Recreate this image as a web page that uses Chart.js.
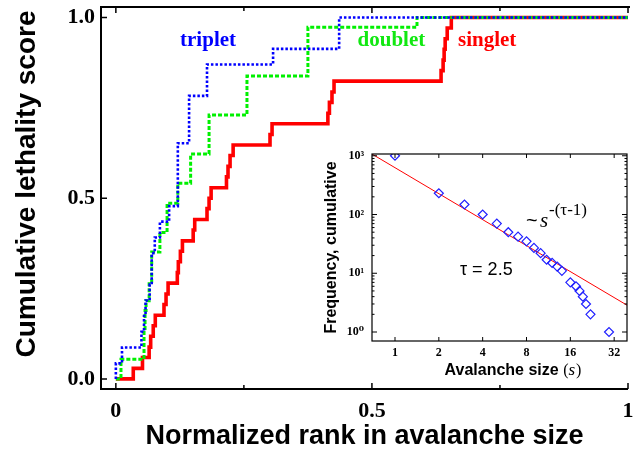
<!DOCTYPE html>
<html>
<head>
<meta charset="utf-8">
<title>Cumulative lethality score</title>
<script src="https://cdn.jsdelivr.net/npm/chart.js@4.4.1/dist/chart.umd.min.js"></script>
<style>
  html, body { margin: 0; padding: 0; background: #fff; }
  #main-box { position: absolute; left: 0; top: 0; width: 637px; height: 464px; }
  #inset-box { position: absolute; left: 300px; top: 140px; width: 337px; height: 250px; }
</style>
</head>
<body>
<div id="main-box"><canvas id="lethality-chart"></canvas></div>
<div id="inset-box"><canvas id="avalanche-chart"></canvas></div>
<script>
// main panel ticks
const xTicks = [0, 0.5, 1]
const xTickLabels = ['0', '0.5', '1']
const xMinorTicks = [0.25, 0.75]
const yTicks = [0, 0.5, 1]
const yTickLabels = ['0.0', '0.5', '1.0']

// step curves: normalized rank -> cumulative lethality score
const singletRank = [0, 0.034, 0.052, 0.065, 0.068, 0.073, 0.077, 0.094, 0.098, 0.102, 0.120, 0.122,
  0.126, 0.130, 0.151, 0.154, 0.178, 0.182, 0.186, 0.216, 0.219, 0.223, 0.229, 0.301, 0.305,
  0.414, 0.417, 0.422, 0.426, 0.635, 0.639, 0.641, 0.643, 0.647, 0.655, 1.0]
const singletScore = [0, 0.029, 0.059, 0.088, 0.118, 0.147, 0.176, 0.206, 0.235, 0.265, 0.294, 0.324,
  0.353, 0.382, 0.412, 0.441, 0.471, 0.5, 0.529, 0.559, 0.588, 0.618, 0.647, 0.676, 0.706,
  0.735, 0.765, 0.794, 0.824, 0.853, 0.882, 0.912, 0.941, 0.971, 1.0, 1.0]

const doubletRank = [0, 0.010, 0.055, 0.057, 0.059, 0.065, 0.070, 0.086, 0.100, 0.121, 0.146, 0.182, 0.256, 0.375, 0.588, 1.0]
const doubletScore = [0, 0.054, 0.135, 0.189, 0.216, 0.270, 0.351, 0.405, 0.486, 0.541, 0.622, 0.730, 0.838, 0.973, 1.0, 1.0]

const tripletRank = [0, 0, 0.012, 0.050, 0.055, 0.058, 0.066, 0.070, 0.076, 0.086, 0.104, 0.121, 0.143, 0.178, 0.307, 0.436, 1.0]
const tripletScore = [0, 0.043, 0.087, 0.130, 0.174, 0.217, 0.261, 0.348, 0.391, 0.435, 0.478, 0.652, 0.783, 0.870, 0.913, 1.0, 1.0]

// inset: avalanche size distribution
const sizeTicks = [1, 2, 4, 8, 16, 32]
const freqTicks = [1, 10, 100, 1000]
const freqTickLabels = ['10⁰', '10¹', '10²', '10³']
const avalancheSize = [1, 2, 3, 4, 5, 6, 7, 8, 9, 10, 11, 12, 13, 14, 16, 17.5, 18.5, 19.5, 20.5, 22, 29.5]
const avalancheFreq = [1000, 230, 148, 100, 70, 50, 42, 35, 27, 22, 17, 15, 13, 11, 7, 6, 5, 4, 3, 2, 1]
const fitSize = [0.695, 39.2]
const fitFreq = [1070, 2.86]


const SERIF = "'Liberation Serif', 'DejaVu Serif', serif"
const SANS = "'Liberation Sans', Arial, sans-serif"

const toPoints = (xs, ys) => xs.map((x, i) => ({ x, y: ys[i] }))


const mainFrame = {
  id: 'mainFrame',
  afterDraw(chart) {
    const { ctx, chartArea: a, scales: { x, y } } = chart
    ctx.save()
    ctx.strokeStyle = '#000'
    ctx.lineWidth = 2
    ctx.beginPath()
    ctx.moveTo(a.right + 2, a.top)
    ctx.lineTo(a.left, a.top)
    ctx.lineTo(a.left, a.bottom)
    ctx.lineTo(a.right, a.bottom)
    ctx.stroke()

    ctx.lineWidth = 1.5
    ctx.beginPath()
    const tick = (v, len) => {
      const px = x.getPixelForValue(v)
      ctx.moveTo(px, a.bottom); ctx.lineTo(px, a.bottom - len)
      ctx.moveTo(px, a.top); ctx.lineTo(px, a.top + len)
    }
    xTicks.forEach(v => tick(v, 6))
    xMinorTicks.forEach(v => tick(v, 4))
    yTicks.forEach(v => {
      const py = y.getPixelForValue(v)
      ctx.moveTo(a.left, py); ctx.lineTo(a.left + 6, py)
    })
    ctx.stroke()

    // curve names
    ctx.font = `bold 21px ${SERIF}`
    ctx.textAlign = 'center'
    ctx.textBaseline = 'middle'
    const names = [['triplet', '#0000ff', 0.180], ['doublet', '#11e811', 0.538], ['singlet', '#ff0000', 0.725]]
    names.forEach(([text, color, rank]) => {
      ctx.fillStyle = color
      ctx.fillText(text, x.getPixelForValue(rank), y.getPixelForValue(0.935))
    })

    // y axis title, sits a little above the middle of the frame
    ctx.fillStyle = '#000'
    ctx.font = `bold 28px ${SANS}`
    ctx.translate(27, 184)
    ctx.rotate(-Math.PI / 2)
    ctx.fillText('Cumulative lethality score', 0, 0)
    ctx.restore()
  }
}

const ctx = document.getElementById('lethality-chart')

new Chart(ctx, {
  type: 'line',
  data: {
    datasets: [
      {
        label: 'triplet',
        data: toPoints(tripletRank, tripletScore),
        borderColor: '#0000ff',
        borderWidth: 2.6,
        borderDash: [2.5, 2],
        stepped: 'before'
      },
      {
        label: 'doublet',
        data: toPoints(doubletRank, doubletScore),
        borderColor: '#00f000',
        borderWidth: 3,
        borderDash: [4, 2],
        stepped: 'before'
      },
      {
        label: 'singlet',
        data: toPoints(singletRank, singletScore),
        borderColor: '#ff0000',
        borderWidth: 3.6,
        stepped: 'before'
      }
    ]
  },
  options: {
    responsive: true,
    maintainAspectRatio: false,
    animation: false,
    layout: { padding: { top: 7, right: 9, left: 0, bottom: 0 } },
    elements: { point: { radius: 0 } },
    plugins: { legend: { display: false }, tooltip: { enabled: false } },
    scales: {
      x: {
        type: 'linear',
        bounds: 'data',
        min: -0.029,
        max: 1,
        grid: { display: false, drawTicks: false },
        border: { display: false },
        afterBuildTicks: s => { s.ticks = xTicks.map(value => ({ value })) },
        afterFit: s => { s.height = 75; s.paddingLeft = 0; s.paddingRight = 0 },
        ticks: {
          callback: (v, i) => xTickLabels[i],
          color: '#000',
          padding: 9,
          maxRotation: 0,
          autoSkip: false,
          font: { family: SERIF, weight: 'bold', size: 22 }
        },
        title: {
          display: true,
          text: 'Normalized rank in avalanche size',
          color: '#000',
          padding: { top: 0, bottom: 11 },
          font: { family: SANS, weight: 'bold', size: 27 }
        }
      },
      y: {
        type: 'linear',
        bounds: 'data',
        min: -0.028,
        max: 1.029,
        grid: { display: false, drawTicks: false },
        border: { display: false },
        afterBuildTicks: s => { s.ticks = yTicks.map(value => ({ value })) },
        afterFit: s => { s.width = 101; s.paddingTop = 0; s.paddingBottom = 0 },
        ticks: {
          callback: (v, i) => yTickLabels[i],
          color: '#000',
          padding: 6,
          autoSkip: false,
          font: { family: SERIF, weight: 'bold', size: 22 }
        }
      }
    }
  },
  plugins: [mainFrame]
})


const insetFrame = {
  id: 'insetFrame',
  afterDraw(chart) {
    const { ctx, chartArea: a, scales: { x, y } } = chart
    ctx.save()
    ctx.strokeStyle = '#000'
    ctx.lineWidth = 1.2
    ctx.strokeRect(a.left, a.top, a.right - a.left, a.bottom - a.top)

    ctx.lineWidth = 1
    ctx.beginPath()
    sizeTicks.forEach(v => {
      const px = x.getPixelForValue(v)
      ctx.moveTo(px, a.bottom); ctx.lineTo(px, a.bottom - 4)
      ctx.moveTo(px, a.top); ctx.lineTo(px, a.top + 4)
    })
    freqTicks.forEach(v => {
      for (let m = 1; m < 10; m++) {
        const val = v * m
        if (val > y.max) break
        const py = y.getPixelForValue(val)
        const len = m === 1 ? 5 : 2.5
        ctx.moveTo(a.left, py); ctx.lineTo(a.left + len, py)
        ctx.moveTo(a.right, py); ctx.lineTo(a.right - len, py)
      }
    })
    ctx.stroke()

    ctx.fillStyle = '#000'
    ctx.textBaseline = 'alphabetic'
    ctx.textAlign = 'left'

    // power law note
    ctx.font = `20px ${SANS}`
    ctx.fillText('~', 226, 87)
    ctx.font = `italic 21px ${SERIF}`
    ctx.fillText('s', 240, 87)
    ctx.font = `17px ${SERIF}`
    ctx.fillText('-(τ-1)', 249, 75)

    ctx.font = `18px ${SANS}`
    ctx.fillText('τ = 2.5', 160, 135)

    // x title with italic s
    const part1 = 'Avalanche size '
    ctx.font = `bold 16px ${SANS}`
    const w1 = ctx.measureText(part1).width
    ctx.font = `16px ${SERIF}`
    const wp = ctx.measureText('(').width
    ctx.font = `italic 17px ${SERIF}`
    const ws = ctx.measureText('s').width
    const total = w1 + wp * 2 + ws + 1
    let cx = 213 - total / 2
    const base = 235
    ctx.font = `bold 16px ${SANS}`
    ctx.fillText(part1, cx, base); cx += w1
    ctx.font = `16px ${SERIF}`
    ctx.fillText('(', cx, base); cx += wp
    ctx.font = `italic 17px ${SERIF}`
    ctx.fillText('s', cx, base); cx += ws + 1
    ctx.font = `16px ${SERIF}`
    ctx.fillText(')', cx, base)
    ctx.restore()
  }
}

new Chart(document.getElementById('avalanche-chart'), {
  type: 'scatter',
  data: {
    datasets: [
      {
        label: 'avalanches',
        data: toPoints(avalancheSize, avalancheFreq),
        pointStyle: 'rectRot',
        pointRadius: 4.5,
        borderColor: '#2020ff',
        borderWidth: 1.2,
        backgroundColor: 'rgba(0,0,0,0)'
      },
      {
        type: 'line',
        label: 'fit',
        data: toPoints(fitSize, fitFreq),
        borderColor: '#ff0000',
        borderWidth: 1,
        pointRadius: 0
      }
    ]
  },
  options: {
    responsive: true,
    maintainAspectRatio: false,
    animation: false,
    layout: { padding: { top: 14, right: 10, left: 0, bottom: 0 } },
    plugins: { legend: { display: false }, tooltip: { enabled: false } },
    scales: {
      x: {
        type: 'logarithmic',
        bounds: 'data',
        min: 0.695,
        max: 39.2,
        grid: { display: false, drawTicks: false },
        border: { display: false },
        afterBuildTicks: s => { s.ticks = sizeTicks.map(value => ({ value })) },
        afterFit: s => { s.height = 49; s.paddingLeft = 0; s.paddingRight = 0 },
        ticks: {
          callback: v => String(v),
          color: '#000',
          padding: 5,
          maxRotation: 0,
          autoSkip: false,
          font: { family: SERIF, weight: 'bold', size: 12 }
        }
      },
      y: {
        type: 'logarithmic',
        bounds: 'data',
        min: 0.703,
        max: 1072,
        grid: { display: false, drawTicks: false },
        border: { display: false },
        afterBuildTicks: s => { s.ticks = freqTicks.map(value => ({ value })) },
        afterFit: s => { s.width = 72; s.paddingTop = 0; s.paddingBottom = 0 },
        ticks: {
          callback: (v, i) => freqTickLabels[i],
          color: '#000',
          padding: 8,
          autoSkip: false,
          font: { family: SERIF, weight: 'bold', size: 12 }
        },
        title: {
          display: true,
          text: 'Frequency, cumulative',
          color: '#000',
          padding: { top: 22, bottom: 0 },
          font: { family: SANS, weight: 'bold', size: 16 }
        }
      }
    }
  },
  plugins: [insetFrame]
})
</script>
</body>
</html>
